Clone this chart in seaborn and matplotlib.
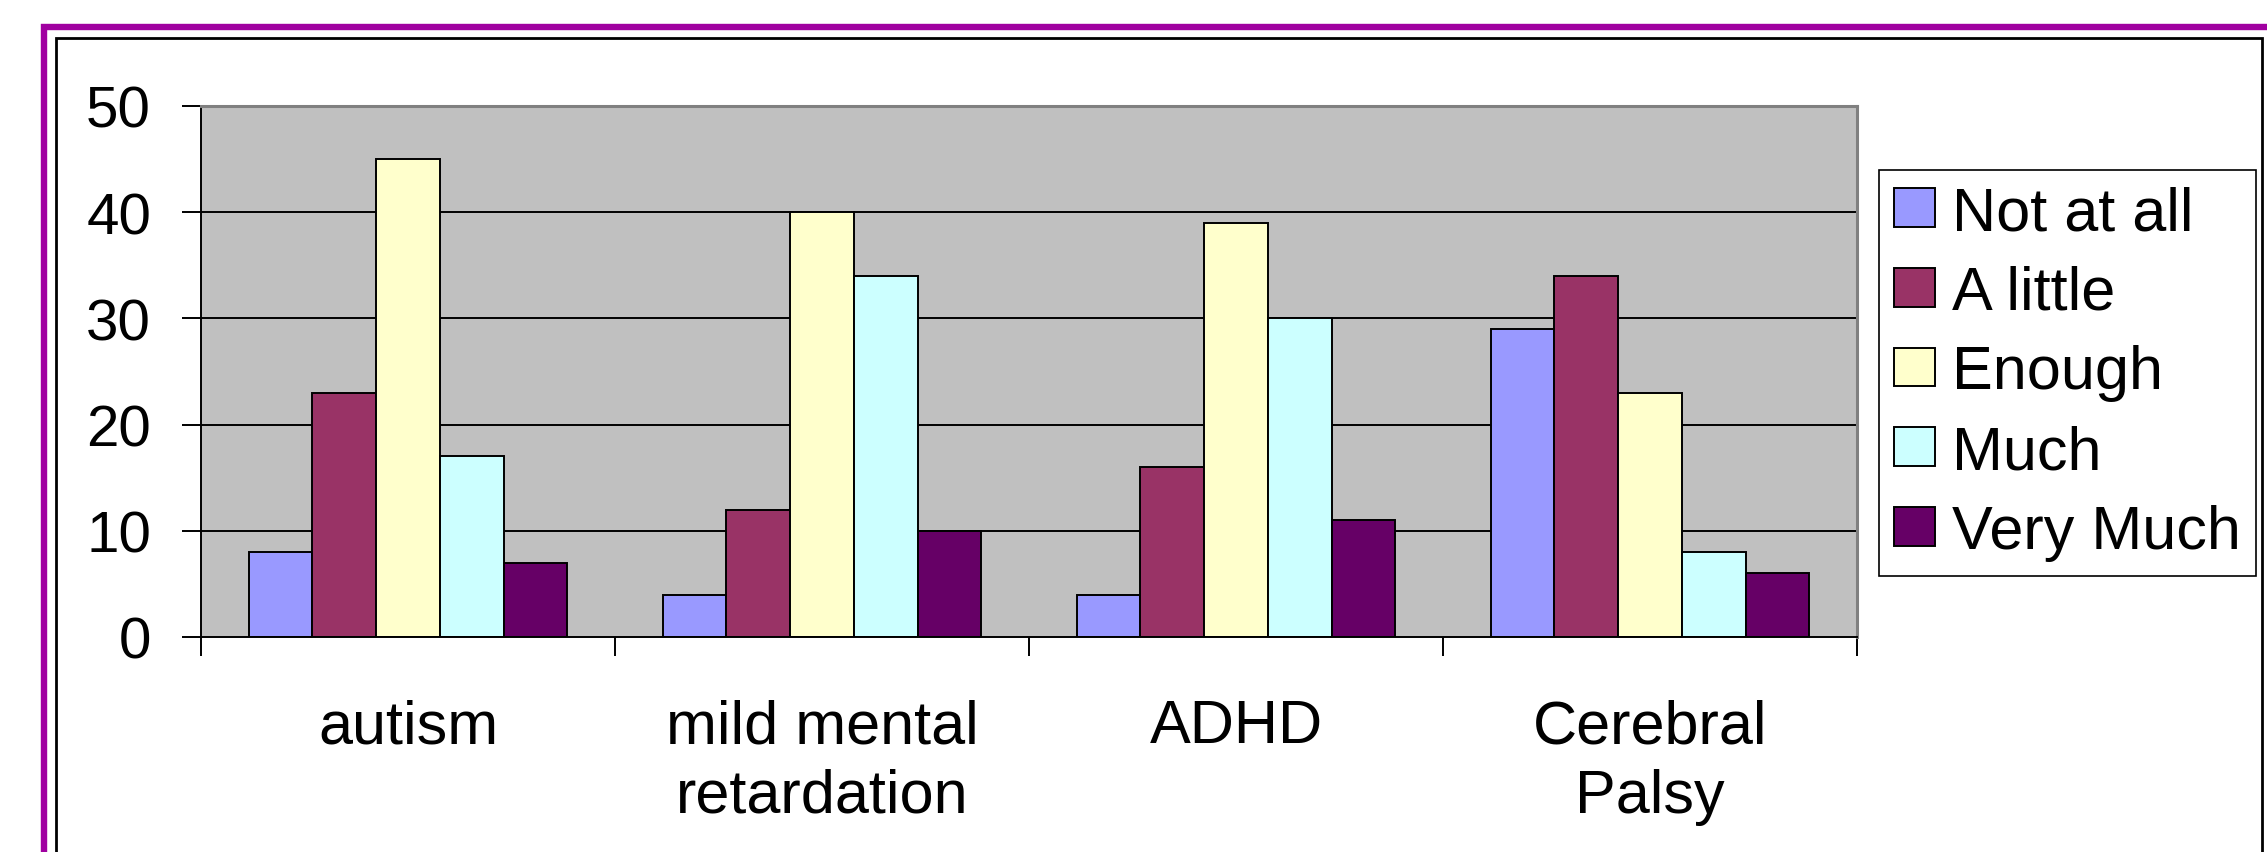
import matplotlib
matplotlib.use("Agg")
import matplotlib.pyplot as plt
from matplotlib.patches import Rectangle, Patch
import seaborn as sns
import pandas as pd

# Survey: how much each condition is known about
categories = ["autism", "mild mental\nretardation", "ADHD", "Cerebral\nPalsy"]
levels = ["Not at all", "A little", "Enough", "Much", "Very Much"]
not_at_all = [8, 4, 4, 29]
a_little = [23, 12, 16, 34]
enough = [45, 40, 39, 23]
much = [17, 34, 30, 8]
very_much = [7, 10, 11, 6]
y_ticks = [0, 10, 20, 30, 40, 50]

colors = ["#9999FF", "#993366", "#FFFFCC", "#CCFFFF", "#660066"]

series = [not_at_all, a_little, enough, much, very_much]
rows = []
for lvl, vals in zip(levels, series):
    for cat, v in zip(categories, vals):
        rows.append({"category": cat, "level": lvl, "value": v})
df = pd.DataFrame(rows)

sns.set_theme(style="white")
plt.rcParams["font.family"] = ["Liberation Sans", "DejaVu Sans"]
plt.rcParams["text.color"] = "black"
plt.rcParams["xtick.color"] = "black"
plt.rcParams["ytick.color"] = "black"
plt.rcParams["xtick.labelcolor"] = "black"
plt.rcParams["ytick.labelcolor"] = "black"

W, H = 2267, 853
fig = plt.figure(figsize=(W / 100, H / 100), dpi=100)
fig.patch.set_facecolor("white")

ax = fig.add_axes([201 / W, 1 - 638 / H, (1857 - 201) / W, (638 - 107) / H])
ax.set_facecolor("#C0C0C0")

sns.barplot(data=df, x="category", y="value", hue="level",
            order=categories, hue_order=levels, palette=colors,
            width=5 / 6.5, gap=0, edgecolor="black", linewidth=1.4,
            saturation=1, legend=False, ax=ax, zorder=3)

# horizontal gridlines inside the plot area
for t in y_ticks[1:-1]:
    ax.axhline(t, color="black", linewidth=1.4, zorder=1)

ax.set_xlim(-0.5, len(categories) - 0.5)
ax.set_ylim(y_ticks[0], y_ticks[-1])
ax.set_yticks(y_ticks)
ax.set_xlabel("")
ax.set_ylabel("")

# category labels centred, ticks at group boundaries
ax.set_xticks(range(len(categories)))
ax.set_xticklabels(categories, fontsize=44, linespacing=1.29, color="black")
ax.set_xticks([i - 0.5 for i in range(len(categories) + 1)], minor=True)
ax.tick_params(axis="x", which="major", length=0, pad=44)
ax.tick_params(axis="x", which="minor", length=14, width=1.4,
               direction="out", color="black", bottom=True)
ax.tick_params(axis="y", which="major", labelsize=42, length=14, width=1.4,
               direction="out", color="black", labelcolor="black",
               left=True, pad=22)

for side in ["left", "bottom"]:
    ax.spines[side].set_color("black")
    ax.spines[side].set_linewidth(1.4)
    ax.spines[side].set_zorder(4)
for side in ["top", "right"]:
    ax.spines[side].set_color("#808080")
    ax.spines[side].set_linewidth(2.2)
    ax.spines[side].set_zorder(4)

# legend
handles = [Patch(facecolor=c, edgecolor="black", linewidth=1.4) for c in colors]
leg = fig.legend(handles, levels, loc="upper left",
                 bbox_to_anchor=(1879 / W, 1 - 171 / H),
                 fontsize=44, frameon=True, fancybox=False, framealpha=1,
                 edgecolor="black", borderpad=0.25, labelspacing=0.37,
                 handlelength=0.66, handleheight=0.6, handletextpad=0.28,
                 borderaxespad=0)
leg.get_frame().set_linewidth(1.2)
for txt in leg.get_texts():
    txt.set_color("black")

# outer frames of the slide graphic
fig.add_artist(Rectangle((43.5 / W, -0.1), 1.2, 1.1 - 28 / H,
                         transform=fig.transFigure, fill=False,
                         edgecolor="#A000A0", linewidth=4.6))
fig.add_artist(Rectangle((56 / W, -0.1), (2262 - 56) / W, 1.1 - 39 / H,
                         transform=fig.transFigure, fill=False,
                         edgecolor="black", linewidth=2.0))

fig.savefig("out.png", dpi=100, facecolor="white")
